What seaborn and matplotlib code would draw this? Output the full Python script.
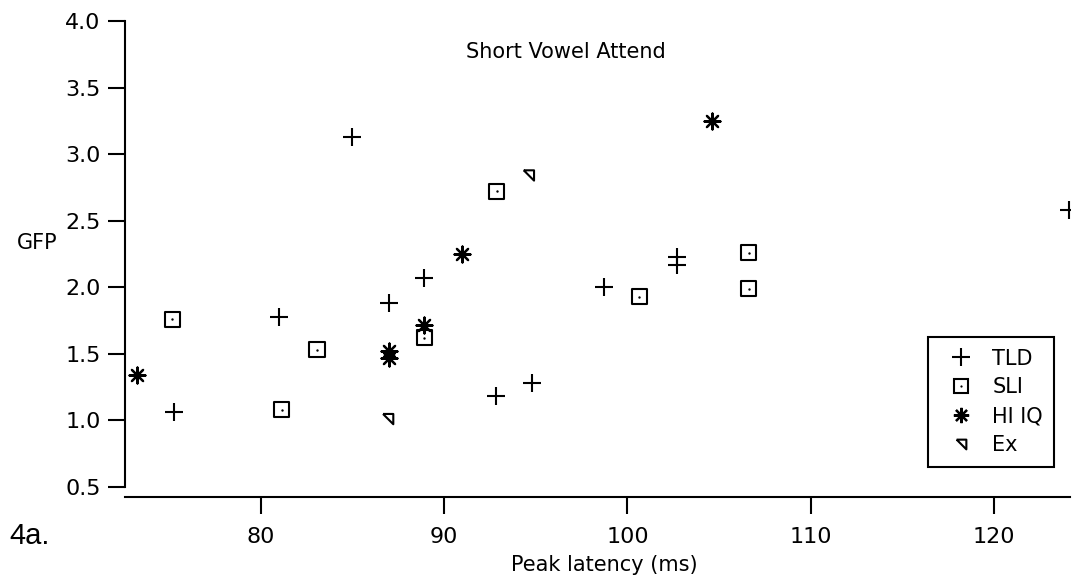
import matplotlib
matplotlib.use('Agg')
import matplotlib.pyplot as plt
import seaborn as sns
import pandas as pd
from matplotlib.lines import Line2D

# 그룹별 데이터 (Peak latency ms, GFP)
tld_x = [84.95, 75.27, 81.0, 86.98, 88.91, 98.71, 92.82, 94.77, 102.68, 102.68, 124.1]
tld_y = [3.13, 1.06, 1.78, 1.88, 2.07, 2.00, 1.18, 1.28, 2.23, 2.17, 2.58]

sli_x = [75.16, 83.06, 81.13, 88.91, 92.86, 100.64, 106.62, 106.62]
sli_y = [1.76, 1.53, 1.08, 1.62, 2.72, 1.93, 2.26, 1.99]

hiiq_x = [73.22, 87.0, 87.0, 88.9, 90.95, 104.59]
hiiq_y = [1.34, 1.52, 1.47, 1.72, 2.25, 3.25]

ex_x = [94.62, 86.94]
ex_y = [2.84, 1.01]

x_ticks = [80, 90, 100, 110, 120]
y_ticks = [0.5, 1.0, 1.5, 2.0, 2.5, 3.0, 3.5, 4.0]

sns.set_style('white')
plt.rcParams['font.family'] = ['DejaVu Sans']
plt.rcParams['text.color'] = 'black'

tld = pd.DataFrame({'x': tld_x, 'y': tld_y})
sli = pd.DataFrame({'x': sli_x, 'y': sli_y})
hiiq = pd.DataFrame({'x': hiiq_x, 'y': hiiq_y})
ex = pd.DataFrame({'x': ex_x, 'y': ex_y})

tri = [(-1, 1), (1, 1), (1, -1), (-1, 1)]
ast = (8, 2, 0)

fig = plt.figure(figsize=(10.86, 5.84), dpi=100)
ax = fig.add_axes([0.1151, 0.149, 0.8702, 0.815])

sns.scatterplot(data=tld, x='x', y='y', marker='+', s=165, color='black',
                linewidth=1.5, ax=ax)
sns.scatterplot(data=sli, x='x', y='y', marker='s', s=120, facecolors='none',
                edgecolor='black', linewidth=1.5, ax=ax)
sns.scatterplot(data=sli, x='x', y='y', marker='o', s=3, color='black',
                linewidth=0, ax=ax)
sns.scatterplot(data=hiiq, x='x', y='y', marker=ast, s=130, color='black',
                linewidth=1.6, ax=ax)
sns.scatterplot(data=ex, x='x', y='y', marker=tri, s=55, facecolors='none',
                edgecolor='black', linewidth=1.5, ax=ax)

ax.set_xlim(72.58, 124.15)
ax.set_ylim(0.425, 4.0)
ax.set_xticks(x_ticks)
ax.set_yticks(y_ticks)
ax.set_yticklabels([f'{v:.1f}' for v in y_ticks])
ax.set_xlabel('')
ax.set_ylabel('')

sns.despine(ax=ax)
for s in ['left', 'bottom']:
    ax.spines[s].set_linewidth(1.5)
    ax.spines[s].set_color('black')
ax.spines['left'].set_bounds(0.5, 4.0)
ax.tick_params(axis='both', direction='out', length=12.5, width=1.5,
               colors='black', labelsize=16, pad=5, left=True, bottom=True)
ax.tick_params(axis='x', pad=9)

fig.text(0.521, 0.911, 'Short Vowel Attend', ha='center', va='center', fontsize=15)
fig.text(0.034, 0.584, 'GFP', ha='center', va='center', fontsize=15)
fig.text(0.556, 0.032, 'Peak latency (ms)', ha='center', va='center', fontsize=15)
fig.text(0.009, 0.082, '4a.', ha='left', va='center', fontsize=21,
         family=['Liberation Sans', 'DejaVu Sans'])

# 범례
h_tld = Line2D([], [], ls='none', marker='+', ms=12.5, mew=1.5, color='black')
h_sli = (Line2D([], [], ls='none', marker='s', ms=10, mew=1.5, mfc='none', mec='black'),
         Line2D([], [], ls='none', marker='o', ms=1.6, mew=0, color='black'))
h_hi = Line2D([], [], ls='none', marker=ast, ms=11, mew=1.6, color='black')
h_ex = Line2D([], [], ls='none', marker=tri, ms=7, mew=1.5, mfc='none', mec='black')
leg = ax.legend([h_tld, h_sli, h_hi, h_ex], ['TLD', 'SLI', 'HI IQ', 'Ex'],
                loc='upper left', bbox_to_anchor=(0.8497, 0.336), fontsize=15,
                frameon=True, fancybox=False, edgecolor='black', framealpha=1,
                borderpad=0.56, labelspacing=0.42, handletextpad=0.47,
                handlelength=2.05, borderaxespad=0)
leg.get_frame().set_linewidth(1.5)

fig.savefig('out.png', dpi=100)
